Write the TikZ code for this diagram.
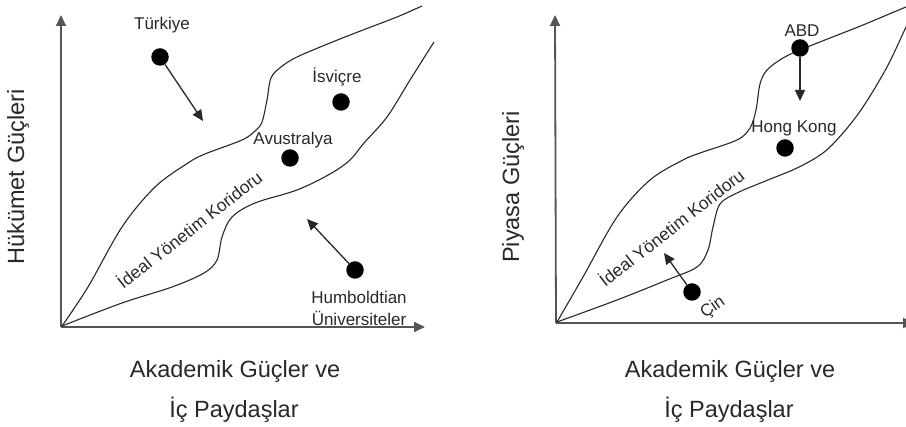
\documentclass[tikz,border=0pt]{standalone}
\usepackage{fontspec}
\setmainfont{Liberation Sans}
\usetikzlibrary{arrows.meta}
\definecolor{ink}{RGB}{40,40,40}
\definecolor{axisc}{RGB}{85,85,85}
\tikzset{
  curve/.style={draw=ink, line width=1.1pt},
  axis/.style={draw=axisc, line width=1.8pt, -{Triangle[length=11pt,width=10pt]}},
  arr/.style={draw=ink, line width=1.3pt, -{Triangle[length=11pt,width=10pt]}},
  dot/.style={circle, fill=black, inner sep=0pt, minimum size=17.5pt},
  lbl/.style={text=ink, inner sep=0pt, font=\fontsize{17}{19}\selectfont},
  big/.style={text=ink, inner sep=0pt, font=\fontsize{23.5}{26}\selectfont},
  corr/.style={text=ink, inner sep=0pt, font=\fontsize{17.5}{19}\selectfont, rotate=38}
}
\begin{document}
\begin{tikzpicture}[x=1pt,y=-1pt]
\useasboundingbox (0,0) rectangle (906,427);
\clip (0,0) rectangle (906,427);
% ---------- left panel ----------
\coordinate (oL) at (61,327);
\coordinate (yL) at (61,15);
\coordinate (xL) at (425,327);
\draw[axis] (oL) -- (yL);
\draw[axis] (oL) -- (xL);
\draw[curve] plot[smooth, tension=0.55] coordinates {(62,326) (88,287) (122,227) (155,187) (188,163) (205,154) (242,140) (255,131) (262,122) (267,100) (271,78) (281,67) (297,57) (330,43) (363,30) (397,17) (422,6)};
\draw[curve] plot[smooth, tension=0.55] coordinates {(62,326) (122,303) (172,287) (204,273) (217,260) (222,237) (232,217) (255,203) (297,190) (330,174) (350,160) (364,143) (387,117) (410,80) (434,42)};
\node[big, rotate=90] (yLlab) at (18,177) {Hükümet Güçleri};
\node[big] (xL1) at (235,371) {Akademik Güçler ve};
\node[big] (xL2) at (234,410) {İç Paydaşlar};
\node[corr] (corL) at (189,229) {İdeal Yönetim Koridoru};
\node[dot] (tr) at (160,57) {};
\node[lbl] (trl) at (162,25) {Türkiye};
\coordinate (tra) at (203,121);
\draw[arr] (tr) -- (tra);
\node[dot] (sw) at (341,102) {};
\node[lbl] (swl) at (337,77) {İsviçre};
\node[dot] (au) at (290,158) {};
\node[lbl] (aul) at (293,140) {Avustralya};
\node[dot] (hu) at (355,270) {};
\node[lbl] (hul1) at (359,297) {Humboldtian};
\node[lbl] (hul2) at (359,318) {Üniversiteler};
\coordinate (hua) at (307,219);
\draw[arr] (hu) -- (hua);
% ---------- right panel ----------
\coordinate (oR) at (556,323);
\coordinate (yR) at (555,15);
\coordinate (xR) at (914,323);
\draw[axis] (oR) -- (yR);
\draw[axis] (oR) -- (xR);
\draw[curve] plot[smooth, tension=0.55] coordinates {(557,322) (583,277) (617,217) (650,180) (683,160) (700,153) (737,140) (750,128) (756,110) (760,84) (767,70) (783,58) (800,50) (830,38) (863,25) (906,7) (920,2)};
\draw[curve] plot[smooth, tension=0.55] coordinates {(557,322) (617,300) (667,280) (697,267) (708,250) (713,227) (720,204) (737,193) (763,182) (797,168) (823,153) (843,133) (863,107) (887,67) (906,27) (915,8)};
\node[big, rotate=90] (yRlab) at (513,187) {Piyasa Güçleri};
\node[big] (xR1) at (730,371) {Akademik Güçler ve};
\node[big] (xR2) at (729,410) {İç Paydaşlar};
\node[corr] (corR) at (671,227) {İdeal Yönetim Koridoru};
\node[dot] (us) at (800,48) {};
\node[lbl] (usl) at (802,31) {ABD};
\coordinate (usa) at (800,101);
\draw[arr] (us) -- (usa);
\node[dot] (hk) at (785,148) {};
\node[lbl] (hkl) at (794,128) {Hong Kong};
\node[dot] (cn) at (692,292) {};
\node[lbl, rotate=35] (cnl) at (713,308) {Çin};
\coordinate (cna) at (664,253);
\draw[arr] (cn) -- (cna);
\end{tikzpicture}
\end{document}
